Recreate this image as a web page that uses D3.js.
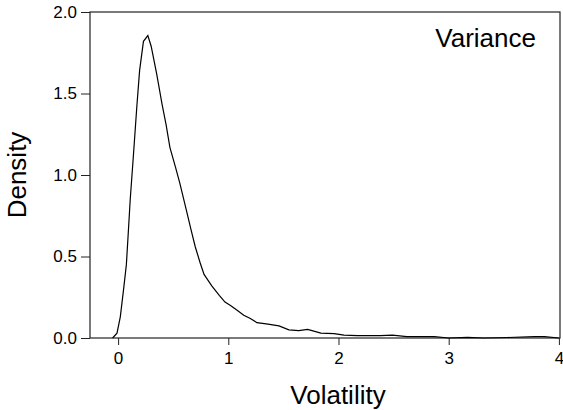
<!DOCTYPE html>
<html><head><meta charset="utf-8">
<script src="https://cdn.jsdelivr.net/npm/d3@7"></script>
<style>body{margin:0;background:#fff}svg{display:block}text{font-family:"Liberation Sans",Arial,sans-serif;fill:#000}</style>
</head><body>
<script>
const volatility = [-0.05,-0.01,0.02,0.05,0.075,0.09,0.11,0.14,0.17,0.195,0.23,0.27,0.3,0.35,0.4,0.435,0.47,0.52,0.56,0.61,0.66,0.7,0.745,0.78,0.85,0.92,0.97,1.02,1.08,1.14,1.2,1.26,1.36,1.46,1.55,1.64,1.72,1.84,1.96,2.05,2.17,2.38,2.49,2.62,2.87,3.0,3.17,3.32,3.53,3.78,3.87,4.0];
const density = [0,0.03,0.13,0.3,0.45,0.62,0.85,1.13,1.42,1.64,1.82,1.855,1.79,1.62,1.43,1.31,1.17,1.05,0.95,0.81,0.67,0.56,0.46,0.39,0.32,0.26,0.22,0.2,0.17,0.14,0.12,0.094,0.085,0.074,0.05,0.045,0.053,0.03,0.027,0.018,0.014,0.014,0.018,0.008,0.008,0.0,0.004,0.0,0.003,0.009,0.008,0.0];
const xTicks = [0,1,2,3,4];
const yTicks = [0,0.5,1.0,1.5,2.0];
const xLabel = "Volatility", yLabel = "Density", title = "Variance";

const W = 563, H = 410;
const m = {l:90, t:12, r:3, b:72};
const svg = d3.select("body").append("svg").attr("width", W).attr("height", H);
const x = d3.scaleLinear().domain([-0.255, 4.01]).range([m.l, W - m.r]);
const y = d3.scaleLinear().domain([0, 2]).range([H - m.b, m.t]);

svg.append("rect").attr("x", m.l).attr("y", m.t).attr("width", W - m.r - m.l).attr("height", H - m.b - m.t)
  .attr("fill", "none").attr("stroke", "#222").attr("stroke-width", 1.2);

const fmtY = d3.format(".1f");
const gy = svg.append("g").attr("transform", `translate(${m.l},0)`)
  .call(d3.axisLeft(y).tickValues(yTicks).tickFormat(fmtY).tickSize(9).tickPadding(4));
const gx = svg.append("g").attr("transform", `translate(0,${H - m.b})`)
  .call(d3.axisBottom(x).tickValues(xTicks).tickFormat(d3.format("d")).tickSize(7).tickPadding(7));
[gy, gx].forEach(g => {
  g.select(".domain").remove();
  g.selectAll(".tick line").attr("stroke", "#222");
  g.selectAll("text").style("font-size", "17px").attr("fill", "#000");
});

const pts = volatility.map((v, i) => [v, density[i]]);
svg.append("path").datum(pts)
  .attr("fill", "none").attr("stroke", "#000").attr("stroke-width", 1.2)
  .attr("d", d3.line().x(d => x(d[0])).y(d => y(d[1])));

svg.append("text").attr("x", 338).attr("y", 404)
  .attr("text-anchor", "middle").style("font-size", "26px").text(xLabel);
svg.append("text").attr("transform", `translate(26,${(m.t + H - m.b) / 2})rotate(-90)`)
  .attr("text-anchor", "middle").style("font-size", "26px").text(yLabel);
svg.append("text").attr("x", 536).attr("y", 47).attr("text-anchor", "end")
  .style("font-size", "26px").text(title);
</script>
</body></html>
